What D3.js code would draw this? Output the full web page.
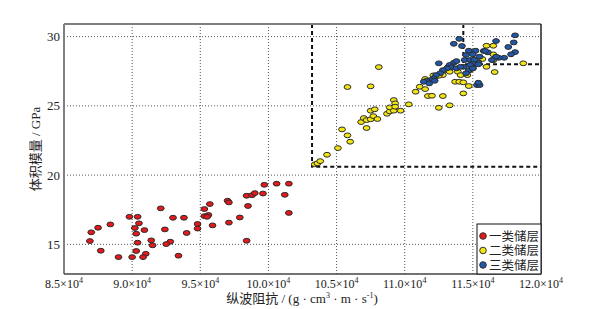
<!DOCTYPE html>
<html><head><meta charset="utf-8">
<script src="https://cdn.jsdelivr.net/npm/d3@7"></script>
<style>body{margin:0;background:#fff}svg{display:block}</style>
</head><body><svg id="c" width="592" height="309"></svg>
<script>
// x values in units of 10^4 g·cm^-3·m·s^-1, y in GPa
const xTicks = [8.5, 9.0, 9.5, 10.0, 10.5, 11.0, 11.5, 12.0];
const yTicks = [15, 20, 25, 30];
const seriesNames = ["一类储层", "二类储层", "三类储层"];
const seriesColors = ["#e3191c", "#f3e512", "#2157a6"];
const class1 = [[8.70,15.87],[8.75,16.20],[8.84,16.44],[8.69,15.24],[8.77,14.54],[8.90,14.08],[8.98,16.99],[9.04,16.99],[9.05,16.52],[9.02,16.18],[9.09,16.03],[9.03,15.77],[9.04,15.12],[9.14,15.29],[9.15,14.93],[9.03,14.52],[9.10,14.32],[9.08,14.08],[9.00,14.08],[9.21,17.60],[9.24,16.08],[9.30,16.92],[9.38,16.92],[9.28,15.19],[9.25,15.02],[9.40,15.82],[9.34,14.18],[9.48,16.47],[9.48,16.14],[9.53,17.55],[9.57,17.91],[9.53,17.04],[9.56,17.12],[9.55,16.99],[9.59,16.37],[9.70,18.15],[9.71,18.03],[9.71,16.57],[9.79,16.94],[9.84,18.51],[9.88,18.55],[9.90,18.70],[9.97,19.30],[9.96,18.67],[9.85,17.77],[9.84,15.26],[10.06,19.38],[10.15,19.38],[10.12,18.58],[10.15,17.27]];
const class2 = [[10.34,20.78],[10.36,20.85],[10.38,21.01],[10.43,21.47],[10.51,21.95],[10.60,22.41],[10.58,22.87],[10.54,23.30],[10.72,23.40],[10.68,23.83],[10.70,24.12],[10.72,23.97],[10.75,24.03],[10.77,24.26],[10.80,24.05],[10.75,24.65],[10.78,24.75],[10.58,26.36],[10.75,26.41],[10.81,27.80],[10.87,24.43],[10.89,24.60],[10.89,24.89],[10.92,24.65],[10.92,25.42],[10.93,25.18],[10.93,24.94],[10.97,24.65],[11.03,25.11],[11.08,26.02],[11.11,26.38],[11.15,26.21],[11.17,25.71],[11.20,25.73],[11.25,24.86],[11.21,27.20],[11.22,26.99],[11.32,27.82],[11.34,27.90],[11.30,27.58],[11.33,27.46],[11.28,27.22],[11.25,27.17],[11.15,26.94],[11.21,26.86],[11.28,25.71],[11.33,25.04],[11.37,26.74],[11.40,26.74],[11.43,26.70],[11.39,27.46],[11.41,27.22],[11.43,25.90],[11.47,26.43],[11.46,27.22],[11.48,27.58],[11.49,28.00],[11.53,28.31],[11.60,29.34],[11.65,29.34],[11.65,28.72],[11.65,28.29],[11.57,28.38],[11.60,27.82],[11.66,27.44],[11.87,28.07]];
const class3 = [[11.81,30.09],[11.80,29.58],[11.76,29.25],[11.67,29.68],[11.81,28.88],[11.78,28.72],[11.73,28.47],[11.69,28.47],[11.40,29.84],[11.36,29.48],[11.42,29.32],[11.47,28.98],[11.52,28.98],[11.58,28.96],[11.61,28.86],[11.55,28.55],[11.45,28.67],[11.50,28.72],[11.25,28.07],[11.44,28.31],[11.48,28.31],[11.54,28.14],[11.50,28.07],[11.36,28.11],[11.38,28.23],[11.33,27.95],[11.34,27.78],[11.31,27.71],[11.28,27.58],[11.26,27.35],[11.23,27.22],[11.21,26.99],[11.19,26.86],[11.16,26.81],[11.14,26.74],[11.22,26.81],[11.47,27.58],[11.50,27.71],[11.53,26.50],[11.55,26.50],[11.54,26.67],[11.38,27.71],[11.43,27.82],[11.48,27.95],[11.64,28.31],[11.67,28.55],[11.51,28.33],[11.54,28.00],[11.50,27.71],[11.59,28.96],[11.18,26.62],[11.45,27.35],[11.41,27.82]];
// dashed boundaries: [x threshold, y threshold]
const bound1 = [10.32, 20.6];
const bound2 = [11.43, 28.0];

const svg = d3.select("#c");
const L = 64, R = 541, T = 24, B = 274;
const x = d3.scaleLinear().domain([8.5, 12.0]).range([L, R]);
const y = d3.scaleLinear().domain([12.86, 30.91]).range([B, T]);
const serif = "'Liberation Serif','Noto Sans CJK SC',serif";

// grid
const g = svg.append("g");
g.selectAll("line.gx").data(xTicks.slice(1, -1)).join("line")
  .attr("x1", d => x(d)).attr("x2", d => x(d)).attr("y1", T).attr("y2", B)
  .attr("stroke", "#555").attr("stroke-width", 1).attr("stroke-dasharray", "1,2");
g.selectAll("line.gy").data(yTicks).join("line")
  .attr("x1", L).attr("x2", R).attr("y1", d => y(d)).attr("y2", d => y(d))
  .attr("stroke", "#555").attr("stroke-width", 1).attr("stroke-dasharray", "1,2");

// dashed boundaries
const dash = svg.append("g").attr("stroke", "#111").attr("stroke-width", 2).attr("stroke-dasharray", "4,3").attr("fill", "none");
[bound1, bound2].forEach(b => {
  dash.append("path").attr("d", `M${x(b[0])},${T}V${y(b[1])}H${R}`);
});

// points
const all = [class1, class2, class3];
all.forEach((data, i) => {
  svg.append("g").selectAll("ellipse").data(data).join("ellipse")
    .attr("cx", d => x(d[0])).attr("cy", d => y(d[1]))
    .attr("rx", 3.4).attr("ry", 2.4)
    .attr("fill", seriesColors[i]).attr("stroke", "#2a2a2a").attr("stroke-width", 1);
});

// frame
svg.append("line").attr("x1", L).attr("x2", L).attr("y1", T).attr("y2", B).attr("stroke", "#808080").attr("stroke-width", 2);
svg.append("line").attr("x1", L).attr("x2", R).attr("y1", T).attr("y2", T).attr("stroke", "#808080").attr("stroke-width", 2);
svg.append("line").attr("x1", R).attr("x2", R).attr("y1", T).attr("y2", B).attr("stroke", "#222").attr("stroke-width", 1.5);
svg.append("line").attr("x1", L).attr("x2", R).attr("y1", B).attr("y2", B).attr("stroke", "#444").attr("stroke-width", 1.5);

// x tick labels
const xl = svg.append("g").attr("font-family", serif).attr("font-size", 12).attr("fill", "#222");
xTicks.forEach(v => {
  const t = xl.append("text").attr("x", x(v)).attr("y", 288).attr("text-anchor", "middle");
  t.append("tspan").text(d3.format(".1f")(v) + "×10");
  t.append("tspan").attr("dy", -5).attr("font-size", 8).text("4");
});
// y tick labels
svg.append("g").attr("font-family", serif).attr("font-size", 13).attr("fill", "#222")
  .selectAll("text").data(yTicks).join("text")
  .attr("x", 60).attr("y", d => y(d) + 4.5).attr("text-anchor", "end").text(d => d);

// axis titles
const xt = svg.append("text").attr("x", 302).attr("y", 303).attr("text-anchor", "middle")
  .attr("font-family", serif).attr("font-size", 13).attr("fill", "#222");
xt.append("tspan").text("纵波阻抗 / (g · cm");
xt.append("tspan").attr("dy", -5).attr("font-size", 8).text("3");
xt.append("tspan").attr("dy", 5).text(" · m · s");
xt.append("tspan").attr("dy", -5).attr("font-size", 8).text("-1");
xt.append("tspan").attr("dy", 5).text(")");

svg.append("text").attr("transform", `translate(40,${(T + B) / 2}) rotate(-90)`)
  .attr("text-anchor", "middle").attr("font-family", serif).attr("font-size", 13).attr("fill", "#222")
  .text("体积模量 / GPa");

// legend
const lg = svg.append("g");
lg.append("rect").attr("x", 477).attr("y", 224).attr("width", R - 477).attr("height", B - 224)
  .attr("fill", "#fff").attr("stroke", "#111").attr("stroke-width", 1);
seriesNames.forEach((n, i) => {
  const cy = 236 + i * 14.5;
  lg.append("circle").attr("cx", 483).attr("cy", cy).attr("r", 3.3)
    .attr("fill", seriesColors[i]).attr("stroke", "#333").attr("stroke-width", 1);
  lg.append("text").attr("x", 489).attr("y", cy + 4.5).attr("font-family", serif)
    .attr("font-size", 12.5).attr("fill", "#222").text(n);
});
</script></body></html>
